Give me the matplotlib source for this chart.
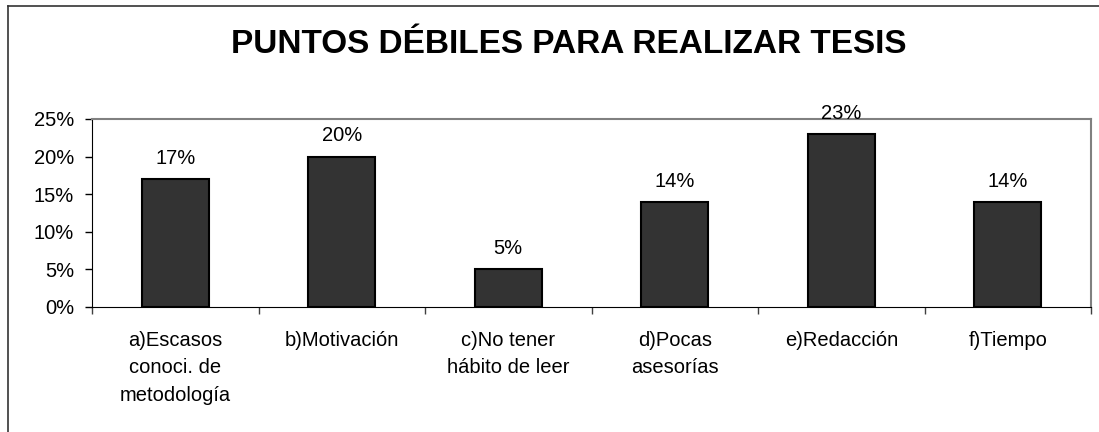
import matplotlib
matplotlib.use('Agg')
import matplotlib.pyplot as plt
from matplotlib.lines import Line2D
from matplotlib.ticker import FixedLocator, FuncFormatter

# data
categories = ['a)Escasos\nconoci. de\nmetodología', 'b)Motivación',
              'c)No tener\nhábito de leer', 'd)Pocas\nasesorías',
              'e)Redacción', 'f)Tiempo']
values = [17, 20, 5, 14, 23, 14]
title = 'PUNTOS DÉBILES PARA REALIZAR TESIS'

plt.rcParams['font.family'] = ['Liberation Sans', 'DejaVu Sans']

fig = plt.figure(figsize=(10.99, 4.32), dpi=100, facecolor='white')
ax = fig.add_axes([92 / 1099, 125 / 432, 999 / 1099, 188 / 432])

x = list(range(len(values)))
bars = ax.bar(x, values, width=0.4, color='#333333', edgecolor='black', linewidth=1.5, zorder=3)
ax.bar_label(bars, labels=[f'{v}%' for v in values], padding=8, fontsize=14.5)

ax.set_xlim(-0.5, len(values) - 0.5)
ax.set_ylim(0, 25)
ax.set_yticks([0, 5, 10, 15, 20, 25])
ax.yaxis.set_major_formatter(FuncFormatter(lambda v, p: f'{v:.0f}%'))
ax.tick_params(axis='y', direction='out', length=5, width=1, color='black', pad=8, labelsize=14.5)

# category labels centred, tick marks on category boundaries
ax.set_xticks(x)
ax.set_xticklabels(categories, fontsize=14.5, linespacing=1.58)
ax.tick_params(axis='x', which='major', length=0, pad=17)
ax.xaxis.set_minor_locator(FixedLocator([i - 0.5 for i in range(len(values) + 1)]))
ax.tick_params(axis='x', which='minor', direction='out', length=5, width=1, color='#404040')

for side in ['top', 'right']:
    ax.spines[side].set_color('#808080')
    ax.spines[side].set_linewidth(1.5)
ax.spines['left'].set_color('black')
ax.spines['bottom'].set_color('black')

# title
fig.text(569 / 1099, (432 - 53) / 432, title, ha='center', va='baseline',
         fontsize=24, fontweight='bold')

# chart frame (only top and left edges visible in the crop)
fx = 7.5 / 1099
fy = (432 - 5.5) / 432
fig.add_artist(Line2D([fx, fx], [0, fy], color='#333333', linewidth=1.2, transform=fig.transFigure))
fig.add_artist(Line2D([fx, 1], [fy, fy], color='#333333', linewidth=1.2, transform=fig.transFigure))

fig.savefig('out.png', dpi=100, facecolor='white')
